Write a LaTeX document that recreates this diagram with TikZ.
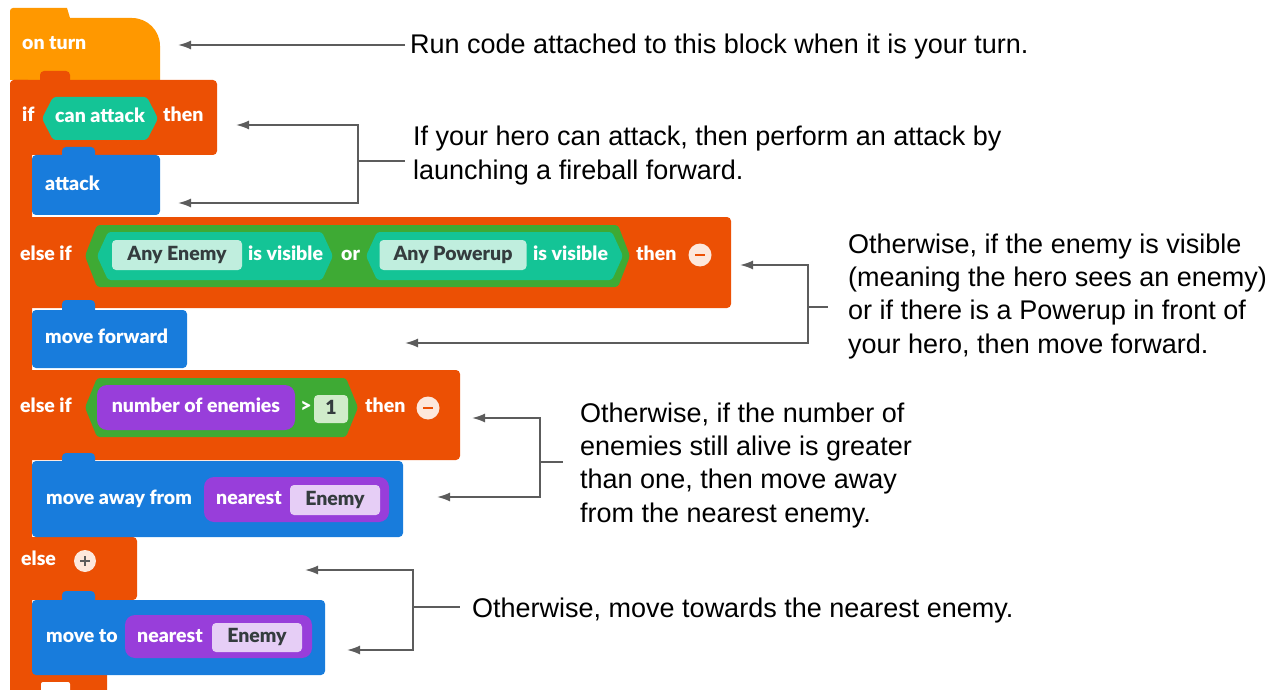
\documentclass[tikz,border=0pt]{standalone}
\usepackage{fontspec}
\setmainfont{Liberation Sans}
\IfFontExistsTF{Lato Black}{\newfontfamily\blockfont{Lato Black}}{\newfontfamily\blockfont{Lato}[UprightFont=*-Bold]}
\usetikzlibrary{arrows.meta}

\definecolor{hatorange}{RGB}{255,152,0}
\definecolor{ctrlred}{RGB}{236,80,4}
\definecolor{actblue}{RGB}{24,124,220}
\definecolor{boolteal}{RGB}{20,196,150}
\definecolor{opgreen}{RGB}{62,170,52}
\definecolor{valpurple}{RGB}{152,62,218}
\definecolor{slotteal}{RGB}{192,238,222}
\definecolor{slotpurple}{RGB}{230,206,246}
\definecolor{slotgreen}{RGB}{208,236,202}
\definecolor{slotink}{RGB}{52,60,62}
\definecolor{notegray}{RGB}{92,92,92}
\definecolor{btnfill}{RGB}{253,232,220}

\tikzset{
  blocktext/.style={font=\blockfont\fontsize{19.5}{24}\selectfont, text=white,
    inner sep=0pt, text height=14pt, text depth=4pt, anchor=west},
  slot/.style={font=\blockfont\fontsize{19.5}{24}\selectfont, text=slotink,
    inner sep=0pt, text height=14pt, text depth=4pt, rounded corners=4pt},
  note/.style={font=\fontsize{27}{33.3}\selectfont, align=left, anchor=base west, inner ysep=0pt},
  pointer/.style={draw=notegray, line width=1.8pt, -{Latex[length=13pt,width=9pt]}},
  bracket/.style={draw=notegray, line width=1.8pt},
  btn/.style={circle, fill=btnfill, minimum size=23pt, inner sep=0pt},
  redpart/.style={fill=ctrlred, rounded corners=4pt},
  bluepart/.style={fill=actblue, rounded corners=4pt},
}

\begin{document}
\begin{tikzpicture}[x=1pt,y=1pt,yscale=-1]
\useasboundingbox (0,0) rectangle (1278,690);

%Shape: hat block
\fill[hatorange] (10,80) -- (10,11) arc[start angle=180,end angle=270,radius=3] -- (67,8) -- (70,18) -- (132,18) arc[start angle=-90,end angle=0,radius=28] -- (160,80) -- cycle;
%Shape: if / else if / else block
\fill[redpart] (10,80) rectangle (32,700);
\fill[redpart] (10,80) rectangle (217,155);
\fill[redpart] (40,71) rectangle (70,84);
\fill[redpart] (10,217) rectangle (731,308);
\fill[redpart] (10,370) rectangle (460,460);
\fill[redpart] (10,537) rectangle (137,600);
\fill[redpart] (10,670) rectangle (107,700);
\fill[white, rounded corners=2pt] (41,682) rectangle (70,695);

%Shape: action blocks
\fill[bluepart] (32,155) rectangle (160,215);
\fill[bluepart] (62,147) rectangle (95,160);
\fill[bluepart] (32,310) rectangle (187,368);
\fill[bluepart] (62,300) rectangle (95,315);
\fill[bluepart] (32,461) rectangle (403,537);
\fill[bluepart] (62,453) rectangle (95,466);
\fill[bluepart] (32,600) rectangle (325,675);
\fill[bluepart] (62,591) rectangle (95,605);

%Shape: conditions
\fill[boolteal, rounded corners=3pt] (42,118.5) -- (53,97) -- (147,97) -- (158,118.5) -- (147,140) -- (53,140) -- cycle;
\fill[opgreen, rounded corners=3pt] (85,256) -- (97,225) -- (618,225) -- (630,256) -- (618,287) -- (97,287) -- cycle;
\fill[boolteal, rounded corners=3pt] (97,256) -- (108,232) -- (322,232) -- (333,256) -- (322,280) -- (108,280) -- cycle;
\fill[boolteal, rounded corners=3pt] (366,256) -- (377,232) -- (612,232) -- (623,256) -- (612,280) -- (377,280) -- cycle;
\fill[opgreen, rounded corners=3pt] (85,407.5) -- (97,378) -- (346,378) -- (358,407.5) -- (346,437) -- (97,437) -- cycle;

%Shape: values
\fill[valpurple, rounded corners=10pt] (97,385) rectangle (295,430);
\fill[valpurple, rounded corners=10pt] (204,477) rectangle (389,522);
\fill[valpurple, rounded corners=10pt] (125,615) rectangle (312,658);

% Text Node
\node[blocktext] (onturn) at (22,45) {on turn};
\node[blocktext] (iflabel) at (22,117) {if};
\node[blocktext, anchor=center] (canattack) at (100,118) {can attack};
\node[blocktext] (ifthen) at (163,117) {then};
\node[blocktext] (attack) at (45,185) {attack};
\node[blocktext] (elseif) at (20,255) {else if};
\node[slot, fill=slotteal, minimum width=130pt, minimum height=30pt] (anyenemy) at (177,255) {Any Enemy};
\node[blocktext] (visiblea) at (248,255) {is visible};
\node[blocktext] (orlabel) at (341,255) {or};
\node[slot, fill=slotteal, minimum width=147pt, minimum height=30pt] (anypowerup) at (453,255) {Any Powerup};
\node[blocktext] (visibleb) at (533,255) {is visible};
\node[blocktext] (elseifthen) at (636,255) {then};
\node[btn] (minusa) at (700,255) {};
\node[blocktext] (moveforward) at (45,338) {move forward};
\node[blocktext] (elseiftwo) at (20,407) {else if};
\node[blocktext, anchor=center] (numenemies) at (196,407) {number of enemies};
\node[blocktext, anchor=center] (greater) at (306,407) {>};
\node[slot, fill=slotgreen, minimum width=34pt, minimum height=28pt] (one) at (331,409) {1};
\node[blocktext] (elseiftwothen) at (365,407) {then};
\node[btn] (minusb) at (428,408) {};
\node[blocktext] (moveaway) at (46,499) {move away from};
\node[blocktext] (nearesta) at (216,499) {nearest};
\node[slot, fill=slotpurple, minimum width=90pt, minimum height=30pt] (enemya) at (335,500) {Enemy};
\node[blocktext] (elselabel) at (21,560) {else};
\node[btn, minimum size=22pt] (plus) at (85,561) {};
\node[blocktext] (moveto) at (46,637) {move to};
\node[blocktext] (nearestb) at (137,637) {nearest};
\node[slot, fill=slotpurple, minimum width=90pt, minimum height=29pt] (enemyb) at (257,637.5) {Enemy};

%Shape: buttons
\draw[ctrlred, line width=2.2pt] ([xshift=-5pt]minusa.center) -- ([xshift=5pt]minusa.center);
\draw[ctrlred, line width=2.2pt] ([xshift=-5pt]minusb.center) -- ([xshift=5pt]minusb.center);
\draw[notegray, line width=2pt] ([xshift=-5pt]plus.center) -- ([xshift=5pt]plus.center);
\draw[notegray, line width=2pt] ([yshift=-5pt]plus.center) -- ([yshift=5pt]plus.center);

% Text Node (base = last line)
\node[note, inner xsep=5pt] (runnote) at (405,54) {Run code attached to this block when it is your turn.};
\node[note, inner xsep=8pt] (attacknote) at (405,179) {If your hero can attack, then perform an attack by\\launching a fireball forward.};
\node[note, inner xsep=20pt] (visiblenote) at (828,353) {Otherwise, if the enemy is visible\\(meaning the hero sees an enemy)\\or if there is a Powerup in front of\\your hero, then move forward.};
\node[note, inner xsep=17pt] (numbernote) at (563,522) {Otherwise, if the number of\\enemies still alive is greater\\than one, then move away\\from the nearest enemy.};
\node[note, inner xsep=12pt] (elsenote) at (460,617) {Otherwise, move towards the nearest enemy.};

%Shape: pointers
\coordinate (onturnend) at (178,45);
\draw[pointer] (runnote.west |- onturnend) -- (onturnend);

\coordinate (attackfork) at (358,161);
\coordinate (ifend) at (236,125);
\coordinate (attackend) at (178,203);
\draw[bracket] (attackfork) -- (attackfork -| attacknote.west);
\draw[pointer] (attackfork) |- (ifend);
\draw[pointer] (attackfork) |- (attackend);

\coordinate (visiblefork) at (808,307);
\coordinate (elseifend) at (740,265);
\coordinate (forwardend) at (405,343);
\draw[bracket] (visiblefork) -- (visiblefork -| visiblenote.west);
\draw[pointer] (visiblefork) |- (elseifend);
\draw[pointer] (visiblefork) |- (forwardend);

\coordinate (numberfork) at (540,462);
\coordinate (elseiftwoend) at (472,418);
\coordinate (awayend) at (437,497);
\draw[bracket] (numberfork) -- (numberfork -| numbernote.west);
\draw[pointer] (numberfork) |- (elseiftwoend);
\draw[pointer] (numberfork) |- (awayend);

\coordinate (elsefork) at (413,607);
\coordinate (elseend) at (305,570);
\coordinate (movetoend) at (347,650);
\draw[bracket] (elsefork) -- (elsefork -| elsenote.west);
\draw[pointer] (elsefork) |- (elseend);
\draw[pointer] (elsefork) |- (movetoend);

\end{tikzpicture}
\end{document}
